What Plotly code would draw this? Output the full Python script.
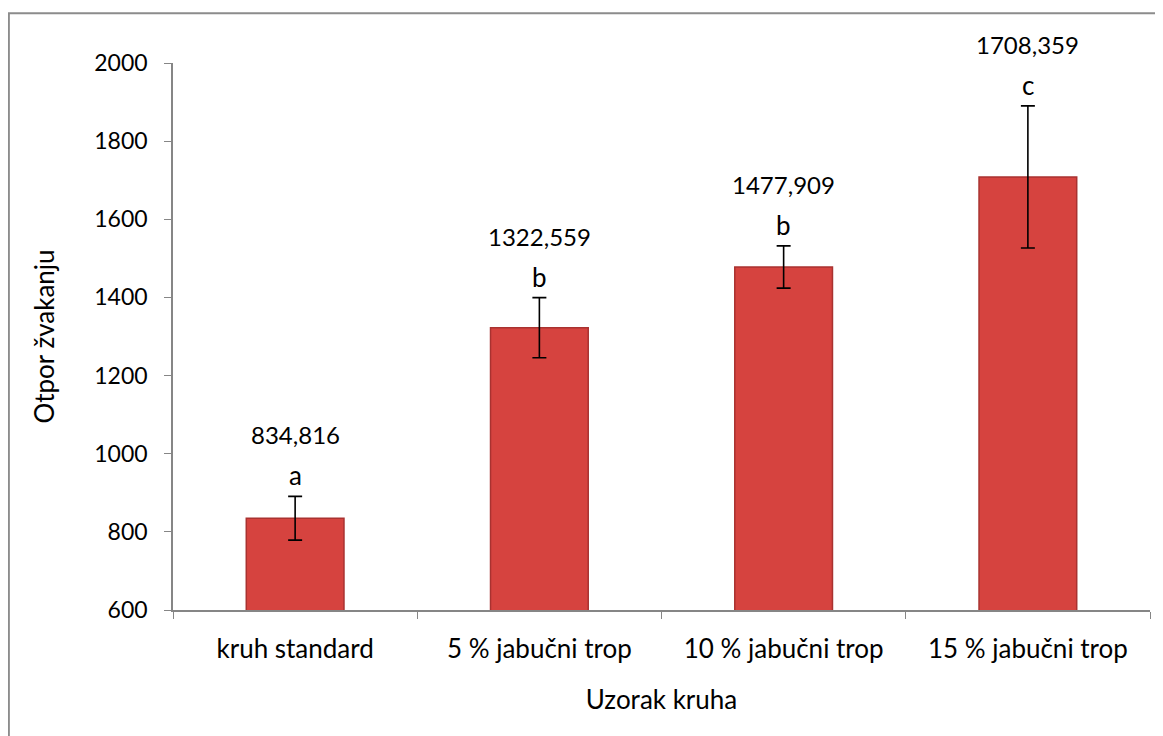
import plotly.graph_objects as go

categories = ["kruh standard", "5 % jabučni trop", "10 % jabučni trop", "15 % jabučni trop"]
values = [834.816, 1322.559, 1477.909, 1708.359]
errors = [56, 77, 54, 182]
value_labels = ["834,816", "1322,559", "1477,909", "1708,359"]
letters = ["a", "b", "b", "c"]

FONT = "Lato"

fig = go.Figure()
fig.add_trace(go.Bar(
    x=categories, y=values,
    width=0.4,
    marker=dict(color="#D6433F", line=dict(color="#A93230", width=1.5)),
    error_y=dict(type="data", array=errors, visible=True, color="black", thickness=1.6, width=7),
))

annotations = []
for c, v, e, vl, l in zip(categories, values, errors, value_labels, letters):
    annotations.append(dict(x=c, y=v + e, text=l, showarrow=False, yanchor="bottom", yshift=3,
                            font=dict(family=FONT, size=26, color="black")))
    annotations.append(dict(x=c, y=v + e, text=vl, showarrow=False, yanchor="bottom", yshift=45,
                            font=dict(family=FONT, size=24, color="black")))

fig.update_layout(
    width=1155, height=728,
    margin=dict(l=165, r=13, t=55, b=126),
    paper_bgcolor="white", plot_bgcolor="white",
    showlegend=False,
    font=dict(family=FONT, size=24, color="black"),
    annotations=annotations,
    xaxis=dict(
        showline=True, linecolor="#868686", linewidth=1.5,
        ticks="outside", tickson="boundaries", ticklen=7, tickcolor="#868686",
        tickfont=dict(family=FONT, size=26, color="black"),
        ticklabelstandoff=15,
        title=dict(text="Uzorak kruha", font=dict(family=FONT, size=26, color="black"), standoff=28),
        showgrid=False,
    ),
    yaxis=dict(
        range=[600, 2000], dtick=200,
        showline=True, linecolor="#868686", linewidth=1.5,
        ticks="outside", ticklen=7, tickcolor="#868686",
        tickfont=dict(family=FONT, size=23, color="black"),
        ticklabelstandoff=12,
        title=dict(text="Otpor žvakanju", font=dict(family=FONT, size=26, color="black"), standoff=32),
        showgrid=False, zeroline=False,
    ),
    shapes=[dict(type="rect", xref="paper", yref="paper",
                 x0=-0.168, x1=1.010, y0=-0.25, y1=1.091,
                 line=dict(color="#8C8C8C", width=2), fillcolor="rgba(0,0,0,0)", layer="below")],
)

fig.write_html("out.html")
